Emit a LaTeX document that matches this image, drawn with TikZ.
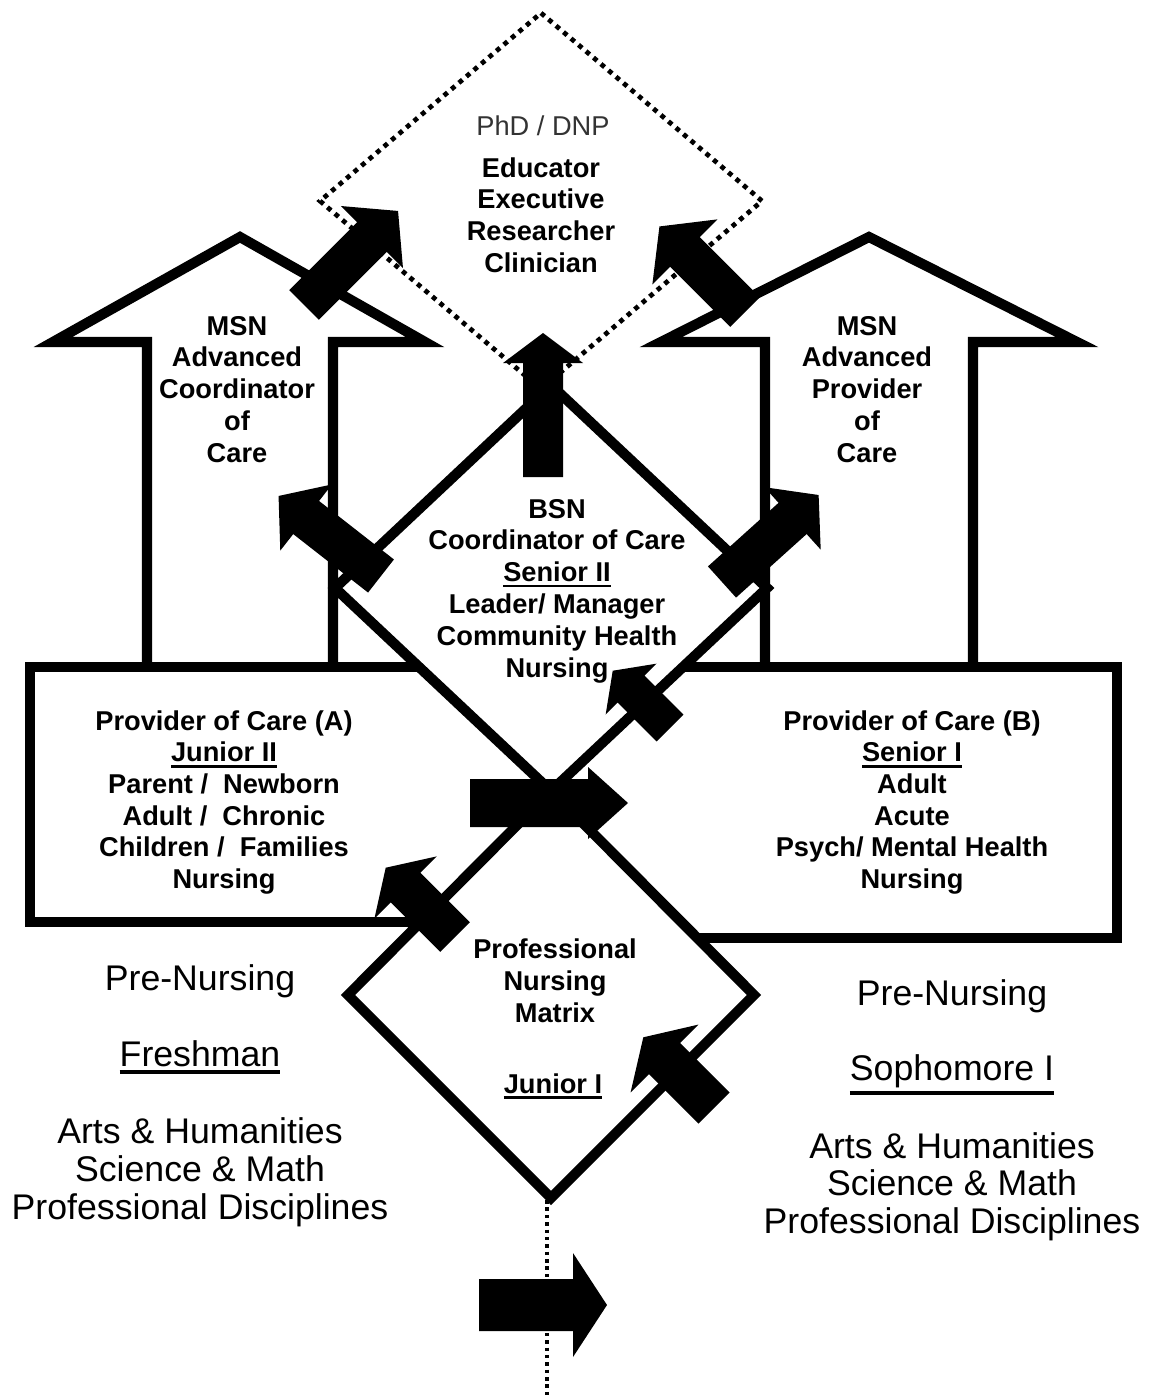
\documentclass[tikz,border=0pt]{standalone}
\usepackage{fontspec}
\setmainfont{Liberation Sans}
\newfontfamily\lblfam{Liberation Sans}
\newcommand\lblfont{\lblfam\bfseries\fontsize{15.5pt}{18pt}\selectfont}
\newcommand\phdfont{\lblfam\fontsize{15.5pt}{18pt}\selectfont}
\newcommand\bigfont{\lblfam\fontsize{20.3pt}{22pt}\selectfont}
\newcommand\uln[1]{\vtop{\hbox{#1}\kern1.6pt\hrule height 1.6pt}}
\newcommand\ulnbig[1]{\vtop{\hbox{#1}\kern2.2pt\hrule height 2pt}}
\newcommand\blkarrow[7]{\fill[shift={(#1,#2)},rotate=#3] (0,-#5) -- (#4,-#5) -- (#4,-#7) -- (#4+#6,0) -- (#4,#7) -- (#4,#5) -- (0,#5) -- cycle;}
\begin{document}
\begin{tikzpicture}[x=0.02cm,y=-0.02cm,
  outline/.style={line width=5.8pt, line join=miter},
  dotline/.style={line width=2.7pt, dash pattern=on 2.7pt off 2.9pt},
  vdots/.style={line width=2pt, dash pattern=on 2pt off 2.2pt},
  lbl/.style={font=\lblfont, inner sep=0pt, anchor=base},
  phd/.style={font=\phdfont, inner sep=0pt, anchor=base, text=black!80},
  big/.style={font=\bigfont, inner sep=0pt, anchor=base}]
\useasboundingbox (0,0) rectangle (1156,1399);
\fill[white] (0,0) rectangle (1156,1399);

% provider of care boxes (one outline)
\draw[outline] (430,922) -- (30,922) -- (30,667) -- (1117,667) -- (1117,938) -- (690,938);

% BSN diamond
\filldraw[outline, fill=white] (551,385) -- (767,588) -- (551,791) -- (335,588) -- cycle;
% Professional Nursing Matrix diamond
\filldraw[outline, fill=white] (551,791) -- (754,995) -- (551,1198) -- (348,995) -- cycle;

% MSN houses
\draw[outline] (147,667) -- (147,342) -- (53,342) -- (240,237) -- (425,342) -- (333,342) -- (333,667);
\draw[outline] (765,667) -- (765,342) -- (661,342) -- (869,237) -- (1077,342) -- (973,342) -- (973,667);

% PhD / DNP dotted diamond
\draw[dotline] (541,13) -- (762,201) -- (541,389) -- (320,201) -- cycle;
% dotted vertical line
\coordinate (pnmbottom) at (547,1200);
\coordinate (pageend) at (547,1399);
\draw[vdots] (pnmbottom) -- (pageend);

% block arrows
\blkarrow{304}{305}{45}{96}{21}{37}{44}
\blkarrow{745}{312}{135}{85}{21}{36}{46}
\blkarrow{543}{477}{90}{114}{20}{30}{40}
\blkarrow{381}{576}{142}{95}{21}{35}{42}
\blkarrow{722}{582}{42}{95}{21}{35}{42}
\blkarrow{470}{803}{0}{118}{24}{40}{36}
\blkarrow{670}{728}{135}{55}{19}{26}{36}
\blkarrow{455}{937}{135}{70}{21}{28}{44}
\blkarrow{714}{1108}{135}{70}{22}{30}{48}
\blkarrow{479}{1305}{0}{94}{26}{34}{52}

% texts
\node[phd] (phdtitle) at (543,135) {PhD / DNP};
\foreach \t [count=\i from 0] in {Educator,Executive,Researcher,Clinician}
  \node[lbl] (role\i) at (541,177+31.7*\i) {\t};
\foreach \t [count=\i from 0] in {MSN,Advanced,Coordinator,of,Care}
  \node[lbl] (msna\i) at (237,335+31.8*\i) {\t};
\foreach \t [count=\i from 0] in {MSN,Advanced,Provider,of,Care}
  \node[lbl] (msnb\i) at (867,335+31.8*\i) {\t};
\foreach \t [count=\i from 0] in {BSN,Coordinator of Care,{\uln{Senior II}},Leader/ Manager,Community Health,Nursing}
  \node[lbl] (bsn\i) at (557,518+31.8*\i) {\t};
\foreach \t [count=\i from 0] in {Provider of Care (A),{\uln{Junior II}},Parent /~ Newborn,Adult /~ Chronic,Children /~ Families,Nursing}
  \node[lbl] (pca\i) at (224,730+31.7*\i) {\t};
\foreach \t [count=\i from 0] in {Provider of Care (B),{\uln{Senior I}},Adult,Acute,Psych/ Mental Health,Nursing}
  \node[lbl] (pcb\i) at (912,730+31.7*\i) {\t};
\node[lbl] (pnm0) at (555,958) {Professional};
\node[lbl] (pnm1) at (555,990) {Nursing};
\node[lbl] (pnm2) at (555,1022) {Matrix};
\node[lbl] (pnm3) at (553,1093) {\uln{Junior I}};

\node[big] (fa) at (200,990) {Pre-Nursing};
\node[big] (fb) at (200,1066) {\ulnbig{Freshman}};
\node[big] (fc) at (200,1143) {Arts \& Humanities};
\node[big] (fd) at (200,1181) {Science \& Math};
\node[big] (fe) at (200,1219) {Professional Disciplines};

\node[big] (sa) at (952,1005) {Pre-Nursing};
\node[big] (sb) at (952,1080) {\ulnbig{Sophomore I}};
\node[big] (sc) at (952,1158) {Arts \& Humanities};
\node[big] (sd) at (952,1195) {Science \& Math};
\node[big] (se) at (952,1233) {Professional Disciplines};
\end{tikzpicture}
\end{document}
